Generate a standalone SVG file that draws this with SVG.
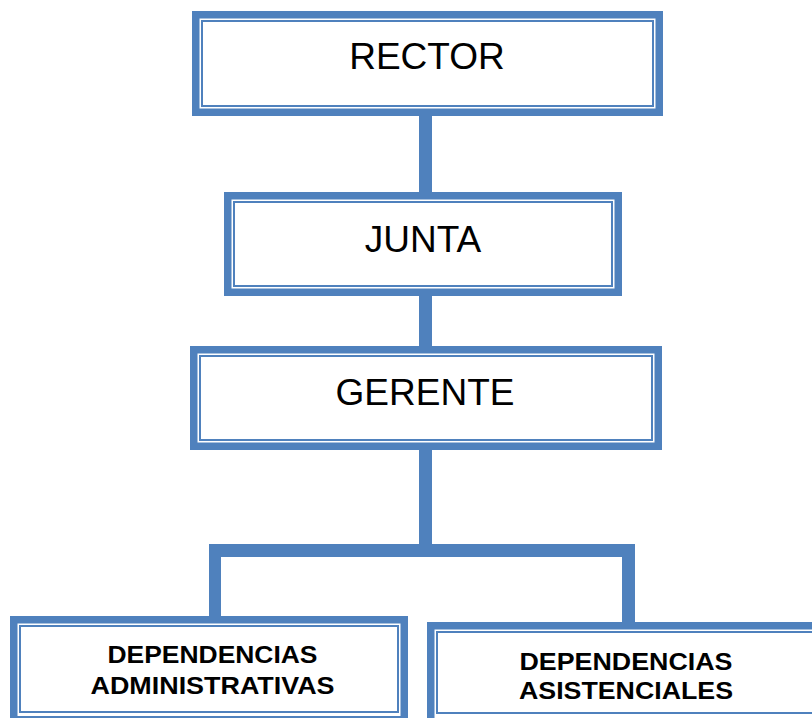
<svg xmlns="http://www.w3.org/2000/svg" width="812" height="718" viewBox="0 0 812 718">
<style>
.thick{fill:#fff;stroke:#4F81BD;stroke-width:7.5}
.thin{fill:none;stroke:#4F81BD;stroke-width:2}
.bar{fill:#4F81BD}
.big{font-family:"Liberation Sans",Arial,sans-serif;font-size:37px;fill:#000;text-anchor:middle}
.small{font-family:"Liberation Sans",Arial,sans-serif;font-size:24.5px;font-weight:bold;fill:#000;text-anchor:middle}
</style>
<rect width="812" height="718" fill="#fff"/>
<g id="connectors">
<rect class="bar" x="419" y="112" width="13" height="84"/>
<rect class="bar" x="419" y="292" width="13" height="58"/>
<rect class="bar" x="419" y="446" width="13" height="104"/>
<rect class="bar" x="209" y="544" width="426" height="13"/>
<rect class="bar" x="209" y="544" width="12" height="76"/>
<rect class="bar" x="622" y="544" width="13" height="82"/>
</g>
<g id="rector">
<rect class="thick" x="195.75" y="14.75" width="463.5" height="97.5"/>
<rect class="thin" x="202" y="21" width="451" height="85"/>
<text class="big" x="427" y="69">RECTOR</text>
</g>
<g id="junta">
<rect class="thick" x="227.75" y="195.75" width="390.5" height="96.5"/>
<rect class="thin" x="234" y="202" width="378" height="84"/>
<text class="big" x="423" y="252">JUNTA</text>
</g>
<g id="gerente">
<rect class="thick" x="193.75" y="349.75" width="464.5" height="96.5"/>
<rect class="thin" x="200" y="356" width="452" height="84"/>
<text class="big" x="425" y="405">GERENTE</text>
</g>
<g id="admin">
<rect class="thick" x="13.75" y="619.75" width="390.5" height="100"/>
<rect class="thin" x="20" y="626" width="378" height="86"/>
<text class="small" x="212.5" y="663" textLength="210" lengthAdjust="spacingAndGlyphs">DEPENDENCIAS</text>
<text class="small" x="212.5" y="694" textLength="244" lengthAdjust="spacingAndGlyphs">ADMINISTRATIVAS</text>
</g>
<g id="asistenciales">
<rect class="thick" x="430.75" y="625.75" width="400" height="100"/>
<rect class="thin" x="437" y="632" width="390" height="81"/>
<text class="small" x="626" y="670" textLength="213" lengthAdjust="spacingAndGlyphs">DEPENDENCIAS</text>
<text class="small" x="626" y="699" textLength="214" lengthAdjust="spacingAndGlyphs">ASISTENCIALES</text>
</g>
</svg>
